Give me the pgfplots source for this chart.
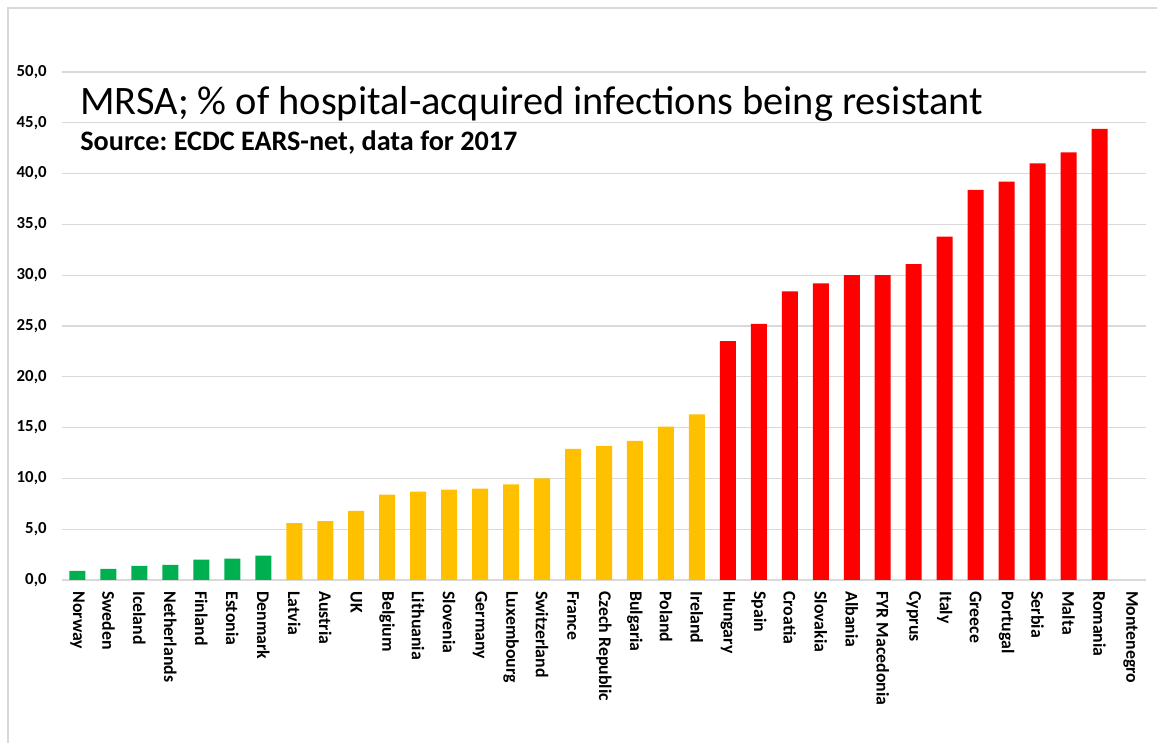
\documentclass[border=0pt]{standalone}
\usepackage{fontspec}
\setmainfont{Carlito}
\usepackage{pgfplots}
\pgfplotsset{compat=1.18}
\definecolor{cgreen}{HTML}{00B050}
\definecolor{cgold}{HTML}{FFC000}
\definecolor{cred}{HTML}{FF0000}
\definecolor{cgrid}{HTML}{D9D9D9}
\frenchspacing
\begin{document}
\begin{tikzpicture}
\path[use as bounding box] (0,0) rectangle (578.5pt,371.5pt);
\draw[cgrid, line width=0.8pt] (4pt,0) -- (4pt,367.5pt) -- (578.5pt,367.5pt);
\begin{axis}[
  at={(31pt,81.5pt)}, anchor=south west,
  scale only axis, width=542pt, height=254pt,
  xmin=-0.5, xmax=34.5, ymin=0, ymax=50,
  ytick={0,5,...,50},
  ymajorgrids, grid style={cgrid, line width=0.6pt},
  axis line style={draw=none},
  major tick length=0pt,
  xtick={0,...,34},
  xticklabels={Norway,Sweden,Iceland,Netherlands,Finland,Estonia,Denmark,Latvia,Austria,UK,Belgium,Lithuania,Slovenia,Germany,Luxembourg,Switzerland,France,Czech Republic,Bulgaria,Poland,Ireland,Hungary,Spain,Croatia,Slovakia,Albania,FYR Macedonia,Cyprus,Italy,Greece,Portugal,Serbia,Malta,Romania,Montenegro},
  x tick label style={rotate=-90, anchor=west, inner sep=0pt, font=\bfseries\fontsize{8.9}{10}\selectfont},
  xticklabel shift=5.5pt,
  y tick label style={anchor=east, inner sep=0pt, font=\bfseries\fontsize{8.4}{9}\selectfont},
  yticklabel shift=7.5pt,
  yticklabel style={/pgf/number format/.cd, fixed, fixed zerofill, precision=1, use comma, assume math mode=true},
  ybar, bar width=8pt, bar shift=0pt,
]
\addplot[fill=cgreen, draw=none] coordinates {(0,0.9) (1,1.1) (2,1.4) (3,1.5) (4,2.0) (5,2.1) (6,2.4)};
\addplot[fill=cgold, draw=none] coordinates {(7,5.6) (8,5.8) (9,6.8) (10,8.4) (11,8.7) (12,8.9) (13,9.0) (14,9.4) (15,10.0) (16,12.9) (17,13.2) (18,13.7) (19,15.1) (20,16.3)};
\addplot[fill=cred, draw=none] coordinates {(21,23.5) (22,25.2) (23,28.4) (24,29.2) (25,30.0) (26,30.0) (27,31.1) (28,33.8) (29,38.4) (30,39.2) (31,41.0) (32,42.1) (33,44.4)};
\end{axis}
\node[anchor=base west, inner sep=0pt, font=\fontsize{20.2}{23}\selectfont] at (40pt,314pt) {MRSA; \% of hospital-acquired infections being resistant};
\node[anchor=base west, inner sep=0pt, font=\bfseries\fontsize{14.1}{16}\selectfont] at (40pt,296pt) {Source: ECDC EARS-net, data for 2017};
\end{tikzpicture}
\end{document}
